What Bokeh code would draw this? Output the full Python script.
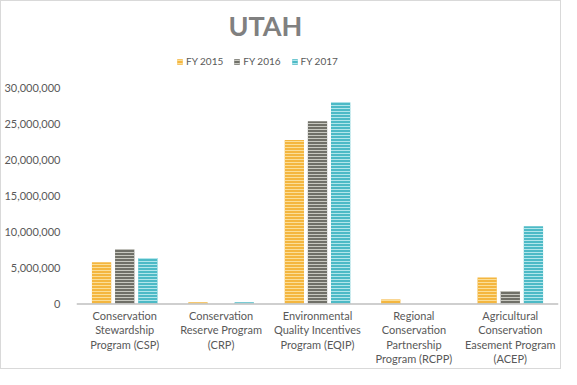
from bokeh.plotting import figure
from bokeh.models import ColumnDataSource, FactorRange, Range1d, FixedTicker, NumeralTickFormatter, Legend, LegendItem, Span
from bokeh.core.properties import value
from bokeh.transform import dodge
from bokeh.embed import file_html
from bokeh.resources import INLINE

labels = [
    "Conservation\nStewardship\nProgram (CSP)",
    "Conservation\nReserve Program\n(CRP)",
    "Environmental\nQuality Incentives\nProgram (EQIP)",
    "Regional\nConservation\nPartnership\nProgram (RCPP)",
    "Agricultural\nConservation\nEasement Program\n(ACEP)",
]
fy2015 = [5800000, 250000, 22800000, 650000, 3700000]
fy2016 = [7600000, 0, 25400000, 0, 1800000]
fy2017 = [6400000, 250000, 28000000, 0, 10800000]
series_names = ["FY 2015", "FY 2016", "FY 2017"]
y_ticks = [0, 5000000, 10000000, 15000000, 20000000, 25000000, 30000000]

src = ColumnDataSource(dict(prog=labels, a=fy2015, b=fy2016, c=fy2017, base=[0] * len(labels)))

FONT = "Lato"
TXT = "#595959"

p = figure(width=561, height=369, x_range=FactorRange(*labels), y_range=Range1d(-9220000, 35780000),
           output_backend="svg", toolbar_location=None,
           min_border_left=72, min_border_right=4, min_border_bottom=0, min_border_top=42)

p.title.text = "UTAH"
p.title.align = "left"
p.title.offset = 152
p.title.text_font = FONT
p.title.text_font_size = "27px"
p.title.text_font_style = "bold"
p.title.text_color = "#808080"

fills = ["#F4B63F", "#707068", "#4DBAC6"]
hatches = ["#FBDE98", "#C8C8C0", "#B2E6EB"]
cols = ["a", "b", "c"]
offs = [-0.24, 0.0, 0.24]
rs = []
for col, off, fc, hc in zip(cols, offs, fills, hatches):
    r = p.vbar(x=dodge("prog", off, range=p.x_range), top=col, width=0.2, source=src,
               fill_color=fc, line_color=None, hatch_pattern="horizontal_line",
               hatch_color=hc, hatch_scale=3, hatch_weight=1)
    rs.append(r)

# baseline (category axis line)
p.add_layout(Span(location=0, dimension="width", line_color="#BFBFBF", line_width=1.5))

# category labels
p.text(x="prog", y="base", text="prog", source=src, text_align="center", text_baseline="top",
       y_offset=5, text_font=value(FONT), text_font_size="11px", text_color=TXT,
       text_line_height=1.1)

legend = Legend(items=[LegendItem(label=n, renderers=[r]) for n, r in zip(series_names, rs)],
                orientation="horizontal", location=(100, 303),
                label_text_font=FONT, label_text_font_size="10px", label_text_color=TXT,
                glyph_width=7, glyph_height=7, spacing=10, label_standoff=3,
                border_line_color=None, background_fill_alpha=0, padding=0, margin=0)
p.add_layout(legend, "center")

p.xgrid.visible = False
p.ygrid.visible = False
p.outline_line_color = None
p.xaxis.visible = False

p.yaxis.ticker = FixedTicker(ticks=y_ticks)
p.yaxis.formatter = NumeralTickFormatter(format="0,0")
p.yaxis.axis_line_color = None
p.yaxis.major_tick_line_color = None
p.yaxis.minor_tick_line_color = None
p.yaxis.major_label_text_font = FONT
p.yaxis.major_label_text_font_size = "11px"
p.yaxis.major_label_text_color = TXT
p.yaxis.major_label_standoff = 10

p.styles = {"border": "1px solid #D9D9D9", "box-sizing": "border-box"}

open("out.html", "w").write(file_html(p, INLINE))
